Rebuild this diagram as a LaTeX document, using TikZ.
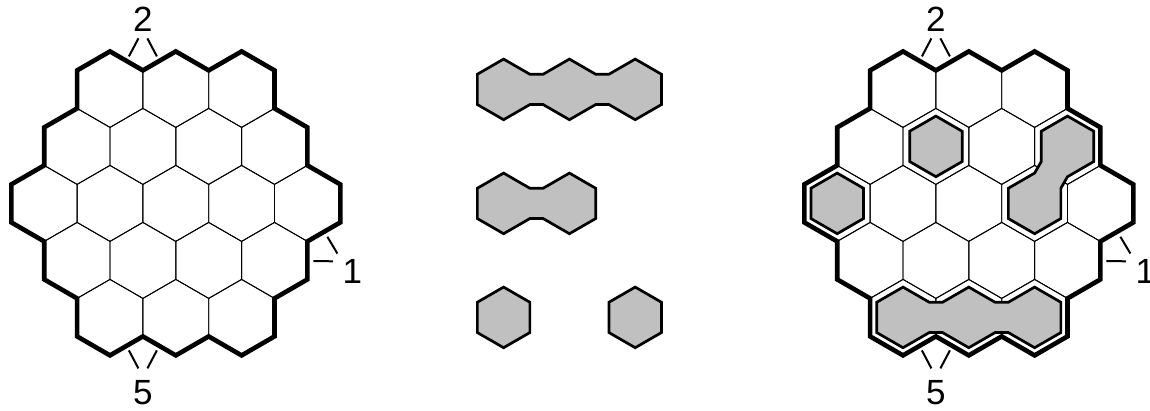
\documentclass[tikz,border=0pt]{standalone}
\usepackage{fontspec}
\setmainfont{Liberation Sans}
\definecolor{piecegray}{RGB}{192,192,192}
\tikzset{
  gridline/.style={line width=0.9pt, draw=black},
  boundary/.style={line width=4.6pt, draw=black, line join=miter},
  cluemark/.style={line width=2pt, draw=black},
  piece/.style={fill=piecegray, draw=black, line width=2.7pt, line join=miter},
  clue/.style={font=\fontsize{35}{40}\selectfont, inner sep=0pt, anchor=base},
}
% inset hexagon corner coordinates: name, x, y
\newcommand\insethex[3]{%
  \coordinate (#1T)  at ({#2},{#3-\Rp});
  \coordinate (#1UR) at ({#2+\ap},{#3-\hp});
  \coordinate (#1LR) at ({#2+\ap},{#3+\hp});
  \coordinate (#1B)  at ({#2},{#3+\Rp});
  \coordinate (#1LL) at ({#2-\ap},{#3+\hp});
  \coordinate (#1UL) at ({#2-\ap},{#3-\hp});
}
\newcommand\singlepiece[1]{%
  \draw[piece] (#1T) -- (#1UR) -- (#1LR) -- (#1B) -- (#1LL) -- (#1UL) -- cycle;
}
\newcommand\drawboard[1]{%
  \foreach \i/\n in {-2/3,-1/4,0/5,1/4,2/3}{
    \foreach \j in {1,...,\n}{
      \pgfmathsetmacro\hx{(\j-(\n+1)/2)*2*\ha}
      \pgfmathsetmacro\hy{\i*57}
      \draw[gridline] ({\hx},{\hy-38}) -- ({\hx+\ha},{\hy-19}) -- ({\hx+\ha},{\hy+19})
        -- ({\hx},{\hy+38}) -- ({\hx-\ha},{\hy+19}) -- ({\hx-\ha},{\hy-19}) -- cycle;
    }
  }
  \draw[boundary] ({-3*\ha},-133) -- ({-2*\ha},-152) -- ({-\ha},-133) -- (0,-152)
    -- ({\ha},-133) -- ({2*\ha},-152) -- ({3*\ha},-133) -- ({3*\ha},-95)
    -- ({4*\ha},-76) -- ({4*\ha},-38) -- ({5*\ha},-19) -- ({5*\ha},19)
    -- ({4*\ha},38) -- ({4*\ha},76) -- ({3*\ha},95) -- ({3*\ha},133)
    -- ({2*\ha},152) -- ({\ha},133) -- (0,152) -- ({-\ha},133)
    -- ({-2*\ha},152) -- ({-3*\ha},133) -- ({-3*\ha},95) -- ({-4*\ha},76)
    -- ({-4*\ha},38) -- ({-5*\ha},19) -- ({-5*\ha},-19) -- ({-4*\ha},-38)
    -- ({-4*\ha},-76) -- ({-3*\ha},-95) -- cycle;
  % clue marks
  \draw[cluemark] ({-\ha-14},-147) -- ({-\ha-4.5},-165);
  \draw[cluemark] ({-\ha+14},-147) -- ({-\ha+4.5},-165);
  \draw[cluemark] ({-\ha-14},147) -- ({-\ha-4.5},165);
  \draw[cluemark] ({-\ha+14},147) -- ({-\ha+4.5},165);
  \draw[cluemark] ({4*\ha+5.99},57.62) -- ({4*\ha+25.46},57.90);
  \draw[cluemark] ({4*\ha+19.99},33.38) -- ({4*\ha+29.96},50.10);
  \node[clue] (#1two) at ({-\ha},-171.7) {2};
  \node[clue] (#1five) at ({-\ha},200.6) {5};
  \node[clue] (#1one) at (176.5,79.9) {1};
}
\begin{document}
\begin{tikzpicture}[x=1pt,y=-1pt]
\pgfmathsetmacro\ha{32.9}
\pgfmathsetmacro\ap{26.25}
\pgfmathsetmacro\Rp{30.31}
\pgfmathsetmacro\hp{15.16}
\useasboundingbox (0,0) rectangle (1150,410);
% left board
\begin{scope}[shift={(175.8,203.4)}]
  \drawboard{L}
\end{scope}
% right board with placed pieces
\begin{scope}[shift={(968.8,203.4)}]
  \drawboard{R}
  \insethex{ra}{-\ha}{-57}
  \singlepiece{ra}
  \insethex{rb}{-4*\ha}{0}
  \singlepiece{rb}
  \insethex{rU}{3*\ha}{-57}
  \insethex{rL}{2*\ha}{0}
  \draw[piece] (rUT) -- (rUUR) -- (rULR) -- (rUB) -- (rLUR) -- (rLLR) -- (rLB)
    -- (rLLL) -- (rLUL) -- (rLT) -- (rULL) -- (rUUL) -- cycle;
  \insethex{rA}{-2*\ha}{114}
  \insethex{rB}{0}{114}
  \insethex{rC}{2*\ha}{114}
  \draw[piece] (rAUL) -- (rAT) -- (rAUR) -- (rBUL) -- (rBT) -- (rBUR) -- (rCUL) -- (rCT)
    -- (rCUR) -- (rCLR) -- (rCB) -- (rCLL) -- (rBLR) -- (rBB) -- (rBLL) -- (rALR)
    -- (rAB) -- (rALL) -- cycle;
\end{scope}
% pieces in the middle
\insethex{mA}{503.6}{89.4}
\insethex{mB}{569.4}{89.4}
\insethex{mC}{635.2}{89.4}
\draw[piece] (mAUL) -- (mAT) -- (mAUR) -- (mBUL) -- (mBT) -- (mBUR) -- (mCUL) -- (mCT)
  -- (mCUR) -- (mCLR) -- (mCB) -- (mCLL) -- (mBLR) -- (mBB) -- (mBLL) -- (mALR)
  -- (mAB) -- (mALL) -- cycle;
\insethex{mD}{503.6}{203.4}
\insethex{mE}{569.4}{203.4}
\draw[piece] (mDUL) -- (mDT) -- (mDUR) -- (mEUL) -- (mET) -- (mEUR) -- (mELR) -- (mEB)
  -- (mELL) -- (mDLR) -- (mDB) -- (mDLL) -- cycle;
\insethex{mF}{503.6}{317.4}
\singlepiece{mF}
\insethex{mG}{635.2}{317.4}
\singlepiece{mG}
\end{tikzpicture}
\end{document}
